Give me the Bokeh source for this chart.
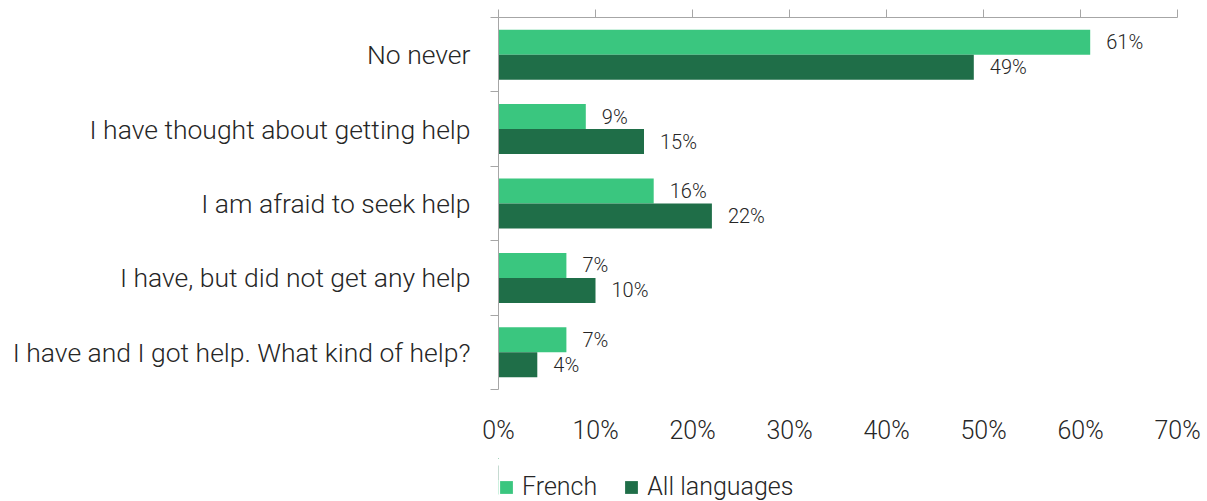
from bokeh.plotting import figure
from bokeh.models import (Range1d, LinearAxis, FixedTicker, Legend, LegendItem,
                          ColumnDataSource)
from bokeh.layouts import column
from bokeh.core.properties import value
from bokeh.embed import file_html
from bokeh.resources import INLINE

categories = ["No never",
              "I have thought about getting help",
              "I am afraid to seek help",
              "I have, but did not get any help",
              "I have and I got help. What kind of help?"]
french = [61, 9, 16, 7, 7]
all_languages = [49, 15, 22, 10, 4]
x_ticks = [0, 10, 20, 30, 40, 50, 60, 70]
x_tick_labels = ["0%", "10%", "20%", "30%", "40%", "50%", "60%", "70%"]
series_names = ["French", "All languages"]

FONT = "Roboto Light"
TXT = "#262626"
AX = "#a6a6a6"
C_FR = "#3ac67f"
C_ALL = "#1f6e48"

n = len(categories)
centers = [i + 0.5 for i in range(n)]
bar_h = 0.336

p = figure(width=1207, height=458, frame_width=679, frame_height=372,
           x_range=Range1d(0, 70), y_range=Range1d(n, 0),
           output_backend="svg", toolbar_location=None, x_axis_location=None,
           y_axis_location=None, min_border_left=498, min_border_right=30,
           min_border_top=17, min_border_bottom=69, outline_line_color=None)
p.grid.visible = False

src_fr = ColumnDataSource(dict(y=[c - bar_h / 2 for c in centers], x=french,
                               lbl=[f"{v}%" for v in french]))
src_all = ColumnDataSource(dict(y=[c + bar_h / 2 for c in centers], x=all_languages,
                                lbl=[f"{v}%" for v in all_languages]))

r_fr = p.hbar(y="y", right="x", left=0, height=bar_h, source=src_fr,
              fill_color=C_FR, line_color=None)
r_all = p.hbar(y="y", right="x", left=0, height=bar_h, source=src_all,
               fill_color=C_ALL, line_color=None)

for src in (src_fr, src_all):
    p.text(x="x", y="y", text="lbl", source=src, x_offset=16, text_baseline="middle",
           text_align="left", text_font=value(FONT), text_font_size="20px",
           text_color=TXT)

# top axis: line + ticks only
top = LinearAxis(ticker=FixedTicker(ticks=x_ticks), major_tick_out=8, major_tick_in=0,
                 minor_tick_line_color=None, axis_line_color=AX, major_tick_line_color=AX,
                 major_label_overrides={t: "" for t in x_ticks},
                 major_label_text_font_size="1px", major_label_standoff=0)
p.add_layout(top, "above")

# bottom axis: labels only
bottom = LinearAxis(ticker=FixedTicker(ticks=x_ticks), axis_line_color=None,
                    major_tick_line_color=None, minor_tick_line_color=None,
                    major_label_standoff=26, major_tick_out=0,
                    major_label_overrides={t: l for t, l in zip(x_ticks, x_tick_labels)},
                    major_label_text_font=FONT, major_label_text_font_size="25px",
                    major_label_text_color=TXT)
p.add_layout(bottom, "below")

# left axis: labels at centers, ticks at boundaries (minor)
left = LinearAxis(ticker=FixedTicker(ticks=centers, minor_ticks=list(range(n + 1))),
                  axis_line_color=AX, major_tick_line_color=None, major_tick_out=0,
                  minor_tick_line_color=AX, minor_tick_out=8, minor_tick_in=0,
                  major_label_standoff=20,
                  major_label_overrides={c: l for c, l in zip(centers, categories)},
                  major_label_text_font=FONT, major_label_text_font_size="26.5px",
                  major_label_text_color=TXT)
p.add_layout(left, "left")

# legend strip below the chart (its bars lie outside the visible range)
pl = figure(width=1207, height=43, x_range=Range1d(100, 200), y_range=Range1d(0, 1),
            output_backend="svg", toolbar_location=None, x_axis_location=None,
            y_axis_location=None, min_border=0, outline_line_color=None)
pl.grid.visible = False
lr_fr = pl.hbar(y="y", right="x", left=0, height=bar_h, source=src_fr,
                fill_color=C_FR, line_color=None)
lr_all = pl.hbar(y="y", right="x", left=0, height=bar_h, source=src_all,
                 fill_color=C_ALL, line_color=None)

legend = Legend(items=[LegendItem(label=series_names[0], renderers=[lr_fr]),
                       LegendItem(label=series_names[1], renderers=[lr_all])],
                orientation="horizontal", location=(0, 0),
                label_text_font=FONT, label_text_font_size="25px", label_text_color=TXT,
                glyph_width=16, glyph_height=16, label_standoff=8, spacing=26,
                padding=0, margin=0, border_line_color=None,
                background_fill_alpha=0)
pl.add_layout(legend, "center")

layout = column(p, pl, spacing=0)
open("out.html", "w").write(file_html(layout, INLINE))
